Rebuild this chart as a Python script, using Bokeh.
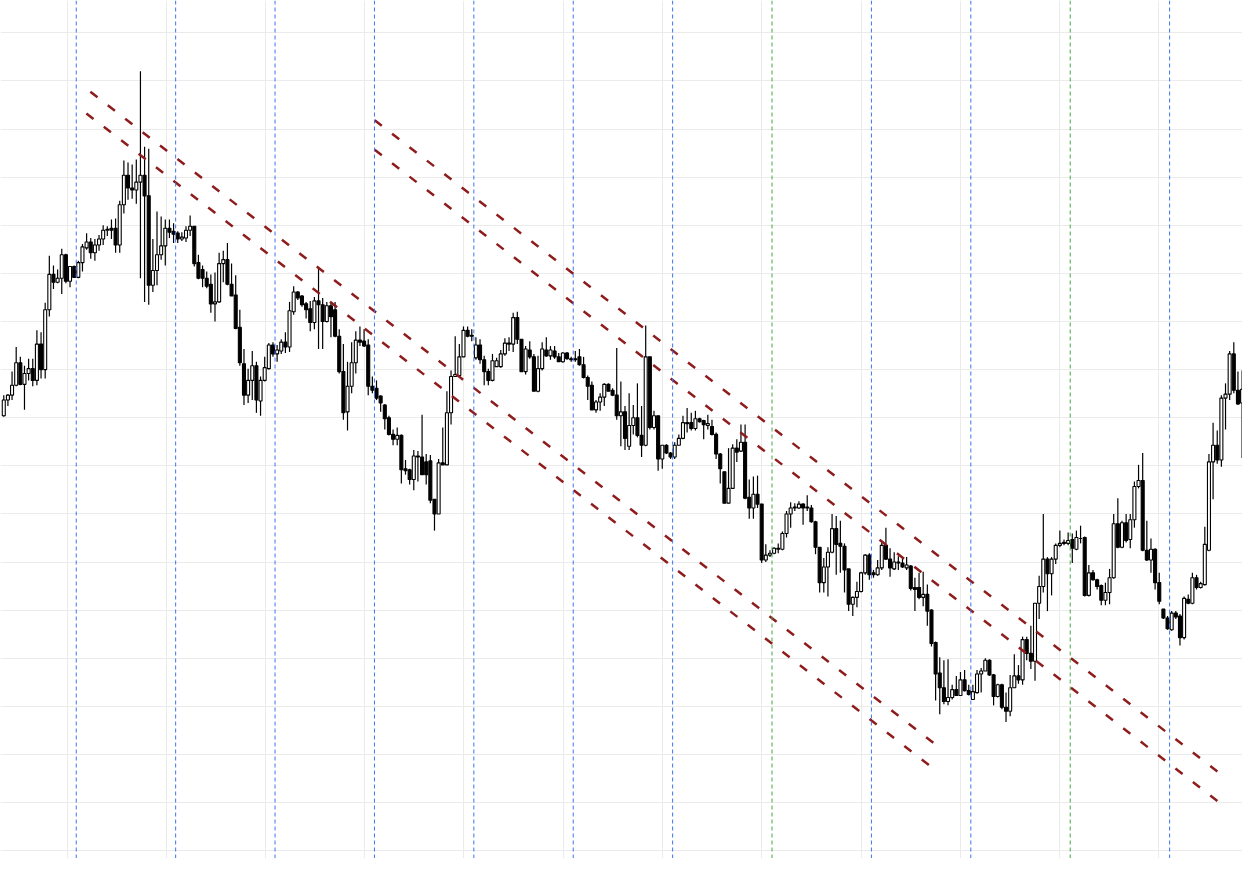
from bokeh.plotting import figure
from bokeh.models import ColumnDataSource, Range1d, FixedTicker, Grid, Span
from bokeh.embed import file_html
from bokeh.resources import INLINE

# ---- candle data (price units) ----
opens = [
    577, 593, 598, 608, 631, 609, 620, 625, 613, 650,
    624, 685, 721, 713, 717, 741, 714, 729, 718, 733,
    748, 754, 743, 751, 757, 766, 768, 768, 751, 792,
    822, 809, 807, 815, 822, 801, 710, 725, 741, 750,
    768, 765, 763, 757, 758, 766, 770, 733, 726, 717,
    711, 691, 693, 732, 736, 711, 700, 667, 630, 598,
    613, 628, 592, 613, 625, 649, 640, 643, 652, 647,
    683, 703, 699, 691, 686, 672, 694, 690, 673, 689,
    685, 658, 622, 581, 607, 631, 654, 653, 649, 607,
    605, 597, 588, 575, 558, 553, 557, 523, 522, 512,
    536, 535, 530, 531, 492, 477, 529, 527, 580, 617,
    618, 637, 664, 659, 636, 649, 634, 622, 613, 627,
    627, 640, 650, 650, 677, 655, 622, 644, 637, 602,
    625, 644, 638, 643, 637, 632, 641, 635, 635, 637,
    629, 616, 608, 583, 591, 596, 609, 603, 598, 577,
    581, 546, 567, 575, 557, 547, 637, 565, 577, 533,
    547, 539, 535, 547, 554, 569, 570, 564, 574, 572,
    567, 566, 558, 538, 520, 488, 503, 544, 541, 550,
    494, 483, 497, 487, 430, 435, 437, 441, 441, 457,
    477, 483, 483, 487, 483, 483, 469, 443, 407, 423,
    438, 462, 447, 444, 421, 385, 392, 398, 417, 435,
    417, 415, 422, 445, 431, 421, 427, 427, 422, 424,
    402, 402, 392, 395, 379, 346, 315, 300, 286, 290,
    298, 292, 308, 297, 288, 295, 314, 317, 328, 313,
    291, 303, 280, 276, 300, 312, 308, 349, 335, 327,
    386, 403, 431, 416, 431, 445, 447, 447, 451, 441,
    452, 453, 394, 417, 410, 404, 389, 397, 412, 467,
    443, 468, 451, 471, 505, 511, 440, 430, 441, 407,
    380, 371, 359, 376, 373, 351, 390, 386, 412, 402,
    405, 440, 530, 547, 532, 595, 599, 640, 603, 590,
]
highs = [
    598, 599, 622, 647, 637, 628, 635, 635, 664, 662,
    692, 740, 730, 726, 747, 742, 729, 730, 735, 752,
    763, 758, 757, 761, 771, 770, 777, 778, 796, 837,
    835, 833, 838, 928, 851, 849, 757, 785, 780, 777,
    777, 773, 765, 764, 770, 781, 770, 741, 730, 724,
    721, 723, 743, 745, 753, 732, 720, 685, 645, 625,
    643, 632, 617, 637, 651, 652, 649, 655, 662, 693,
    709, 704, 700, 693, 694, 698, 727, 697, 693, 692,
    693, 665, 650, 632, 652, 663, 668, 665, 655, 617,
    613, 598, 589, 577, 563, 565, 558, 532, 523, 542,
    541, 578, 538, 537, 492, 533, 565, 602, 623, 658,
    650, 668, 668, 665, 657, 655, 638, 625, 640, 636,
    644, 656, 657, 682, 683, 655, 648, 653, 640, 638,
    652, 657, 648, 648, 641, 642, 642, 637, 643, 645,
    637, 618, 612, 593, 600, 610, 610, 605, 646, 612,
    587, 600, 588, 610, 587, 669, 637, 582, 577, 547,
    548, 540, 550, 558, 577, 585, 580, 582, 575, 573,
    578, 573, 560, 539, 520, 544, 548, 553, 568, 568,
    512, 515, 516, 487, 446, 440, 443, 447, 459, 480,
    489, 488, 490, 488, 496, 486, 470, 443, 432, 443,
    477, 475, 470, 447, 421, 393, 408, 418, 436, 437,
    420, 430, 448, 463, 442, 438, 434, 433, 433, 425,
    412, 417, 418, 405, 380, 347, 331, 328, 329, 303,
    312, 316, 318, 303, 303, 318, 320, 330, 329, 314,
    304, 304, 295, 313, 334, 323, 352, 352, 363, 386,
    414, 477, 433, 433, 447, 460, 451, 458, 457, 460,
    465, 454, 425, 420, 411, 405, 407, 421, 477, 493,
    470, 477, 477, 510, 527, 539, 470, 452, 442, 417,
    380, 373, 378, 378, 375, 393, 395, 417, 415, 408,
    464, 538, 570, 562, 598, 610, 643, 652, 622, 623,
]
lows = [
    576, 587, 593, 607, 608, 583, 613, 607, 608, 615,
    615, 678, 706, 712, 701, 712, 708, 718, 717, 724,
    746, 737, 735, 745, 751, 760, 757, 743, 743, 783,
    797, 798, 793, 717, 693, 690, 703, 710, 736, 730,
    758, 753, 753, 755, 754, 760, 729, 716, 708, 707,
    682, 673, 692, 713, 710, 699, 665, 628, 588, 590,
    593, 580, 577, 612, 624, 637, 632, 640, 641, 642,
    680, 695, 688, 676, 663, 665, 645, 645, 672, 657,
    657, 620, 573, 562, 600, 620, 648, 647, 598, 600,
    593, 581, 563, 557, 547, 547, 508, 517, 507, 501,
    510, 517, 507, 488, 460, 477, 527, 527, 568, 617,
    617, 637, 657, 653, 634, 630, 608, 608, 612, 627,
    626, 638, 643, 642, 650, 622, 619, 635, 602, 601,
    623, 637, 634, 635, 632, 631, 634, 632, 632, 628,
    615, 593, 583, 580, 582, 587, 602, 597, 573, 546,
    542, 542, 558, 555, 535, 546, 563, 563, 521, 523,
    538, 533, 533, 547, 553, 560, 562, 562, 570, 553,
    563, 557, 533, 508, 488, 488, 503, 530, 540, 492,
    472, 472, 483, 427, 428, 433, 436, 437, 440, 453,
    463, 480, 482, 466, 480, 468, 436, 397, 397, 393,
    437, 415, 417, 397, 378, 373, 382, 397, 415, 410,
    412, 414, 420, 430, 413, 420, 420, 422, 420, 399,
    378, 390, 383, 363, 342, 287, 273, 283, 282, 288,
    292, 292, 296, 292, 288, 294, 295, 317, 312, 282,
    290, 278, 265, 271, 300, 304, 303, 328, 319, 307,
    370, 397, 378, 394, 426, 443, 445, 445, 427, 440,
    447, 393, 393, 409, 400, 384, 384, 385, 411, 442,
    442, 448, 442, 463, 503, 439, 429, 417, 400, 385,
    370, 359, 358, 370, 343, 349, 385, 385, 400, 401,
    404, 439, 492, 528, 525, 563, 593, 600, 588, 534,
]
closes = [
    593, 598, 608, 631, 609, 620, 625, 613, 650, 624,
    685, 721, 713, 717, 741, 714, 729, 718, 733, 749,
    754, 743, 751, 757, 766, 767, 766, 751, 792, 822,
    809, 807, 815, 822, 801, 710, 725, 741, 750, 768,
    764, 762, 757, 759, 766, 770, 732, 717, 717, 709,
    691, 693, 732, 736, 711, 699, 666, 631, 598, 613,
    628, 593, 613, 626, 649, 640, 644, 652, 647, 684,
    703, 697, 690, 685, 672, 694, 690, 673, 689, 678,
    658, 622, 580, 607, 631, 654, 652, 648, 607, 603,
    595, 590, 574, 558, 553, 557, 522, 521, 512, 536,
    535, 517, 517, 491, 477, 529, 527, 580, 617, 619,
    637, 664, 658, 658, 649, 634, 622, 613, 633, 633,
    640, 651, 651, 677, 655, 622, 645, 637, 602, 625,
    645, 638, 644, 637, 632, 641, 635, 634, 634, 629,
    616, 607, 583, 591, 596, 609, 602, 598, 577, 581,
    554, 567, 575, 557, 547, 637, 565, 577, 533, 547,
    539, 535, 547, 554, 570, 570, 564, 574, 571, 568,
    569, 558, 538, 523, 488, 503, 544, 540, 550, 493,
    483, 497, 487, 430, 435, 437, 442, 442, 457, 477,
    483, 484, 487, 483, 484, 469, 443, 407, 423, 438,
    462, 446, 444, 420, 385, 392, 398, 417, 435, 415,
    415, 422, 445, 431, 422, 428, 428, 423, 425, 401,
    400, 392, 395, 378, 345, 314, 300, 286, 290, 298,
    292, 308, 297, 293, 296, 314, 317, 328, 313, 291,
    303, 280, 276, 300, 312, 308, 349, 335, 327, 386,
    403, 431, 416, 431, 445, 447, 448, 450, 442, 453,
    452, 394, 417, 410, 403, 389, 397, 412, 467, 443,
    468, 450, 471, 505, 511, 440, 430, 441, 407, 388,
    371, 360, 376, 372, 351, 391, 386, 412, 402, 406,
    446, 530, 547, 532, 595, 599, 640, 603, 589, 604,
]

# horizontal price grid levels and vertical time grid (bar index)
price_grid = [967, 918, 869, 820, 771, 722, 673, 624, 575, 526, 477, 428, 379, 330, 281, 232, 183, 134]
time_grid = [15.3, 39.3, 63.2, 87.2, 111.1, 135.1, 159.1, 183.0, 207.0, 230.9, 254.9, 278.8]

# period separators (bar index) and their colours
separators = [17.5, 41.5, 65.5, 89.5, 113.5, 137.5, 161.5, 185.5, 209.5, 233.5, 257.5, 281.5]
separator_colors = ["#3d74f0", "#3d74f0", "#3d74f0", "#3d74f0", "#3d74f0", "#3d74f0",
                    "#3d74f0", "#48a848", "#3d74f0", "#3d74f0", "#48a848", "#3d74f0"]

# trend channel lines: (bar index, price) -> (bar index, price)
trend_x0 = [20.91, 19.95, 89.56, 89.56]
trend_y0 = [907, 885, 878, 848]
trend_x1 = [224.72, 223.77, 293.85, 293.85]
trend_y1 = [243, 220, 212, 182]

n = len(opens)
idx = list(range(n))
src = ColumnDataSource(dict(
    x=idx, o=opens, h=highs, l=lows, c=closes,
    top=[max(o, c) for o, c in zip(opens, closes)],
    bottom=[min(o, c) for o, c in zip(opens, closes)],
    fill=["#ffffff" if c >= o else "#000000" for o, c in zip(opens, closes)],
))

p = figure(width=1242, height=858, output_backend="svg", toolbar_location=None,
           x_range=Range1d(-0.79, 299.1), y_range=Range1d(126, 1000),
           x_axis_location=None, y_axis_location=None, min_border=0,
           background_fill_color="#ffffff", border_fill_color="#ffffff",
           outline_line_color=None)
p.grid.visible = False

p.add_layout(Grid(dimension=1, ticker=FixedTicker(ticks=price_grid),
                  grid_line_color="#ebebeb", grid_line_width=1))
p.add_layout(Grid(dimension=0, ticker=FixedTicker(ticks=time_grid),
                  grid_line_color="#ebebeb", grid_line_width=1))

for loc, col in zip(separators, separator_colors):
    p.add_layout(Span(location=loc, dimension="height", line_color=col,
                      line_dash="4 3", line_width=1))

p.segment(x0="x", y0="h", x1="x", y1="l", source=src, line_color="#000000", line_width=1.2)
p.vbar(x="x", top="top", bottom="bottom", width=0.72, source=src,
       fill_color="fill", line_color="#000000", line_width=1.1)

p.segment(x0=trend_x0, y0=trend_y0, x1=trend_x1, y1=trend_y1,
          line_color="#8e1c1c", line_width=2.5, line_dash="9 13")

open("out.html", "w").write(file_html(p, INLINE))
